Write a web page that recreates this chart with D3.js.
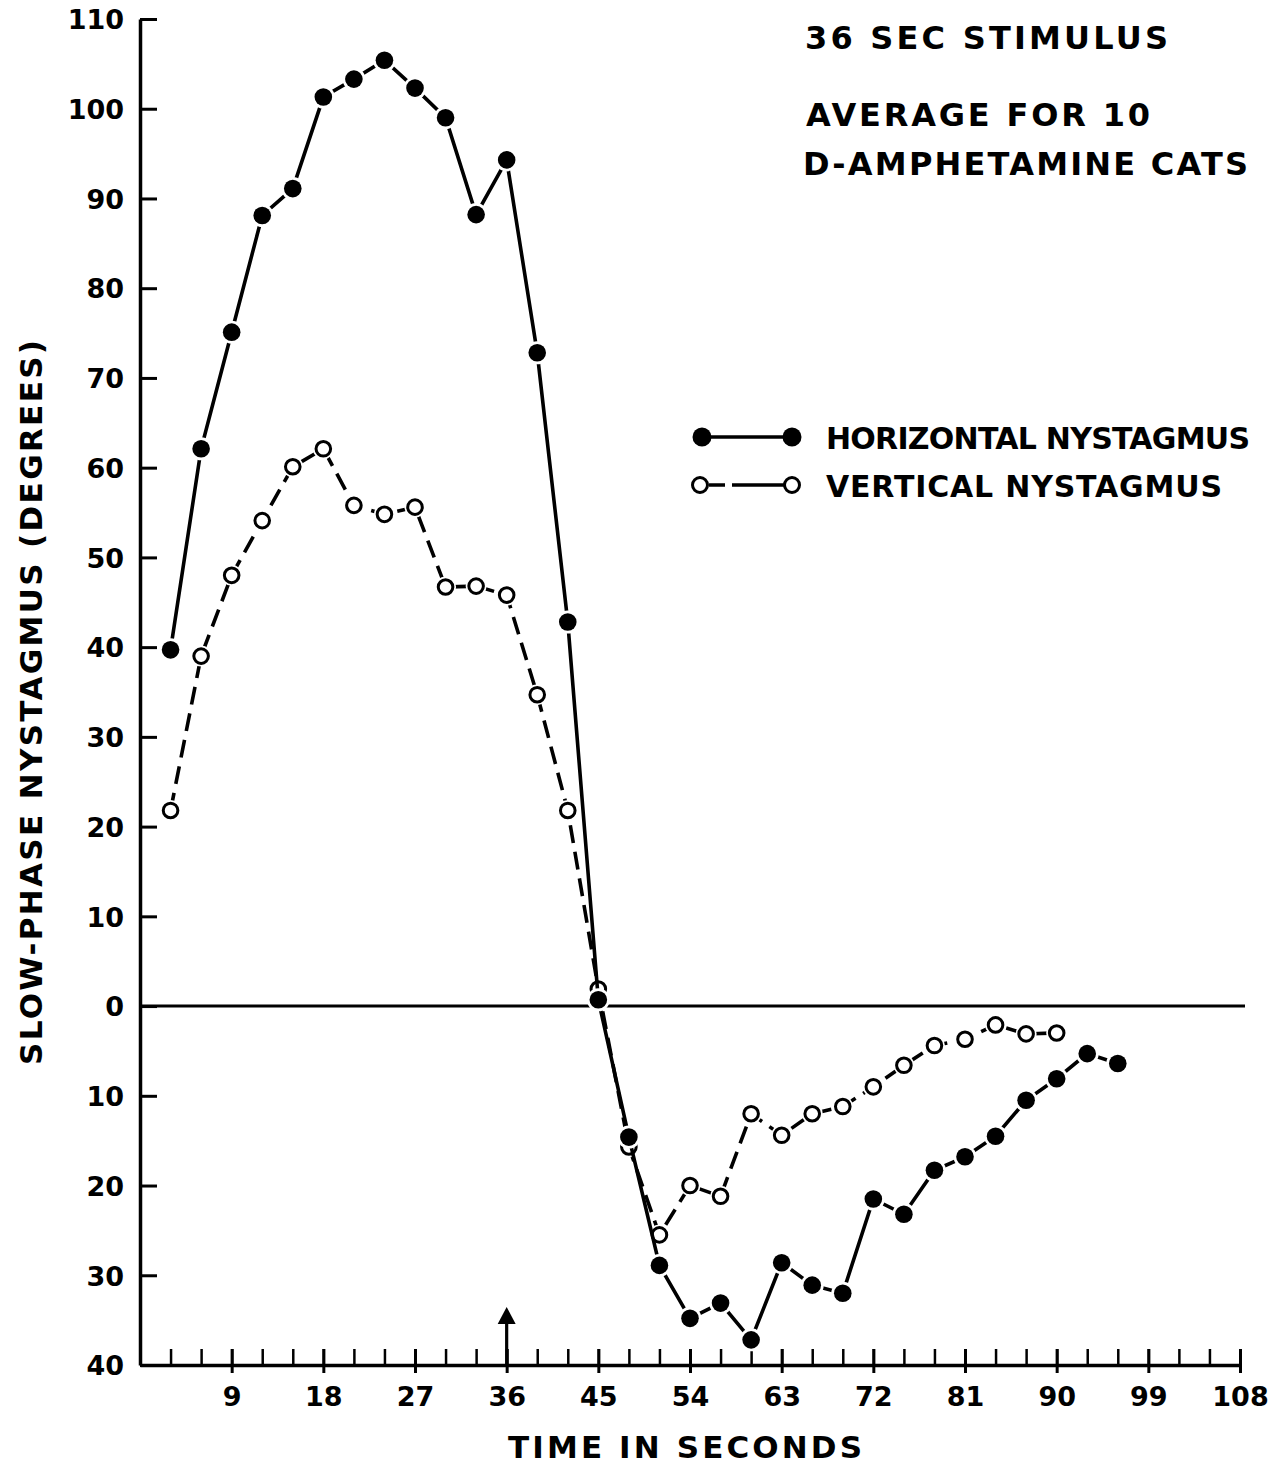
<!DOCTYPE html>
<html lang="en">
  <head>
    <meta charset="UTF-8" />
    <title>Slow-phase nystagmus, 36 sec stimulus</title>
    <script src="https://cdn.jsdelivr.net/npm/d3@7"></script>
    <style>
      body { margin: 0; background: #fff; }
      text { font-family: "DejaVu Sans", sans-serif; fill: #000; font-weight: bold; }
    </style>
  </head>
  <body>
    <svg id="chart" width="1285" height="1465"></svg>

    <script>
      // time points (seconds) and averaged slow-phase values (degrees, below zero = negative)
      const hSeconds = [3, 6, 9, 12, 15, 18, 21, 24, 27, 30, 33, 36, 39, 42, 45, 48,
        51, 54, 57, 60, 63, 66, 69, 72, 75, 78, 81, 84, 87, 90, 93, 96];
      const horizontal = [39.7, 62.1, 75.1, 88.1, 91.1, 101.3, 103.3, 105.4, 102.3, 99.0,
        88.2, 94.3, 72.8, 42.8, 0.7, -14.6, -28.9, -34.8, -33.1, -37.2, -28.6, -31.1,
        -32.0, -21.5, -23.2, -18.3, -16.8, -14.5, -10.5, -8.1, -5.3, -6.4];

      const vSeconds = [3, 6, 9, 12, 15, 18, 21, 24, 27, 30, 33, 36, 39, 42, 45, 48,
        51, 54, 57, 60, 63, 66, 69, 72, 75, 78, 81, 84, 87, 90];
      const vertical = [21.8, 39.0, 48.0, 54.1, 60.1, 62.1, 55.8, 54.8, 55.6, 46.7,
        46.8, 45.8, 34.7, 21.8, 1.9, -15.7, -25.5, -20.0, -21.2, -12.0, -14.4, -12.0,
        -11.2, -9.0, -6.6, -4.4, -3.7, -2.1, -3.1, -3.0];

      const xMinorTicks = d3.range(3, 109, 3);
      const xMajorTicks = [9, 18, 27, 36, 45, 54, 63, 72, 81, 90, 99, 108];
      const yTicks = [-40, -30, -20, -10, 0, 10, 20, 30, 40, 50, 60, 70, 80, 90, 100, 110];
      const stimulusEnd = 36;

      const titleLines = ["36 SEC STIMULUS", "AVERAGE FOR 10", "D-AMPHETAMINE CATS"];
      const legendLabels = ["HORIZONTAL NYSTAGMUS", "VERTICAL NYSTAGMUS"];

      let svg = d3.select("#chart");

      let x = d3.scaleLinear().domain([0, 108]).range([140, 1240]);
      let y = d3.scaleLinear().domain([-40, 110]).range([1365, 19]);

      // y axis, ticks point inward, labels show magnitude only
      let yAxis = svg.append("g")
        .attr("transform", `translate(${x(0)},0)`)
        .call(d3.axisLeft(y).tickValues(yTicks).tickSize(-17).tickSizeOuter(0)
          .tickPadding(16).tickFormat(d => Math.abs(d)));
      yAxis.select(".domain").attr("stroke-width", 3.5);
      yAxis.selectAll(".tick line").attr("stroke-width", 3);
      yAxis.selectAll(".tick text").style("font-size", "27px").attr("dy", "0.36em");

      // x axis, small ticks every 3 s
      let xAxis = svg.append("g")
        .attr("transform", `translate(0,${y(-40)})`)
        .call(d3.axisBottom(x).tickValues(xMinorTicks).tickSize(-16).tickSizeOuter(0)
          .tickFormat(""));
      xAxis.select(".domain").attr("stroke-width", 3.5);
      xAxis.selectAll(".tick line").attr("stroke-width", 2.5);

      // labelled ticks cross the axis
      let xMajor = svg.append("g")
        .attr("transform", `translate(0,${y(-40)})`)
        .call(d3.axisBottom(x).tickValues(xMajorTicks).tickSize(8).tickSizeOuter(0)
          .tickPadding(14));
      xMajor.select(".domain").remove();
      xMajor.selectAll(".tick line").attr("y1", -16).attr("stroke-width", 3);
      xMajor.selectAll(".tick text").style("font-size", "27px");

      // zero line
      svg.append("line")
        .attr("x1", x(0)).attr("x2", x(108) + 5)
        .attr("y1", y(0)).attr("y2", y(0))
        .attr("stroke", "#000").attr("stroke-width", 3);

      // stimulus arrow
      svg.append("line")
        .attr("x1", x(stimulusEnd)).attr("x2", x(stimulusEnd))
        .attr("y1", y(-40)).attr("y2", y(-40) - 44)
        .attr("stroke", "#000").attr("stroke-width", 3.2);
      svg.append("path")
        .attr("d", `M${x(stimulusEnd)},${y(-40) - 58} l-9,17 l18,0 z`)
        .attr("fill", "#000");

      let line = d3.line().x(d => x(d[0])).y(d => y(d[1]));

      function drawSeries(secs, vals, filled, dash) {
        let pts = secs.map((s, i) => [s, vals[i]]);
        svg.append("path")
          .datum(pts)
          .attr("d", line)
          .attr("fill", "none")
          .attr("stroke", "#000")
          .attr("stroke-width", 3.6)
          .attr("stroke-dasharray", dash);
        // white halo leaves a small gap between line and marker
        svg.append("g").selectAll("circle")
          .data(pts).join("circle")
          .attr("cx", d => x(d[0])).attr("cy", d => y(d[1]))
          .attr("r", filled ? 11.5 : 10.5)
          .attr("fill", "#fff");
        svg.append("g").selectAll("circle")
          .data(pts).join("circle")
          .attr("cx", d => x(d[0])).attr("cy", d => y(d[1]))
          .attr("r", filled ? 8.8 : 7.3)
          .attr("fill", filled ? "#000" : "#fff")
          .attr("stroke", "#000")
          .attr("stroke-width", filled ? 0 : 3);
      }

      drawSeries(vSeconds, vertical, false, "18,9");
      drawSeries(hSeconds, horizontal, true, null);

      // title block
      svg.append("text").attr("x", 805).attr("y", 49).attr("textLength", 363)
        .attr("lengthAdjust", "spacing").style("font-size", "32px").text(titleLines[0]);
      svg.append("text").attr("x", 806).attr("y", 126).attr("textLength", 344)
        .attr("lengthAdjust", "spacing").style("font-size", "32px").text(titleLines[1]);
      svg.append("text").attr("x", 803).attr("y", 175).attr("textLength", 445)
        .attr("lengthAdjust", "spacing").style("font-size", "32px").text(titleLines[2]);

      // legend
      let leg = svg.append("g");
      leg.append("line").attr("x1", 702).attr("x2", 792).attr("y1", 437).attr("y2", 437)
        .attr("stroke", "#000").attr("stroke-width", 3.4);
      leg.selectAll(".lf").data([702, 792]).join("circle")
        .attr("cx", d => d).attr("cy", 437).attr("r", 9.5).attr("fill", "#000");
      leg.append("line").attr("x1", 709).attr("x2", 786).attr("y1", 485).attr("y2", 485)
        .attr("stroke", "#000").attr("stroke-width", 3.4).attr("stroke-dasharray", "16,7,60");
      leg.selectAll(".lo").data([700, 792]).join("circle")
        .attr("cx", d => d).attr("cy", 485).attr("r", 7.5)
        .attr("fill", "#fff").attr("stroke", "#000").attr("stroke-width", 3);
      leg.append("text").attr("x", 826).attr("y", 449).attr("textLength", 424)
        .attr("lengthAdjust", "spacing").style("font-size", "30px").text(legendLabels[0]);
      leg.append("text").attr("x", 826).attr("y", 497).attr("textLength", 396)
        .attr("lengthAdjust", "spacing").style("font-size", "30px").text(legendLabels[1]);

      // axis titles
      svg.append("text").attr("x", 508).attr("y", 1458).attr("textLength", 354)
        .attr("lengthAdjust", "spacing").style("font-size", "31px").text("TIME IN SECONDS");
      svg.append("text")
        .attr("transform", "translate(42,1065) rotate(-90)")
        .attr("textLength", 725).attr("lengthAdjust", "spacing")
        .style("font-size", "31px").text("SLOW-PHASE NYSTAGMUS (DEGREES)");
    </script>
  </body>
</html>
